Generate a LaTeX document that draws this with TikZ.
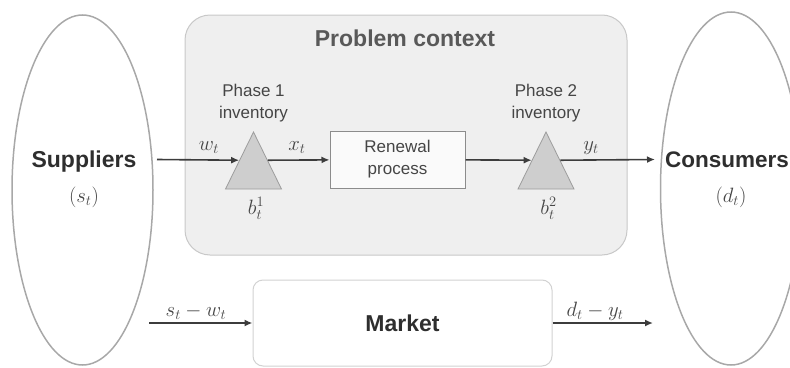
\documentclass[tikz,border=0pt]{standalone}
\usepackage{fontspec}
\setmainfont{Liberation Sans}
\usetikzlibrary{shapes.geometric,arrows.meta}

\definecolor{ovalline}{HTML}{A8A8A8}
\definecolor{ctxfill}{HTML}{EFEFEF}
\definecolor{ctxline}{HTML}{C8C8C8}
\definecolor{titletext}{HTML}{595959}
\definecolor{trifill}{HTML}{CECECE}
\definecolor{triline}{HTML}{9C9C9C}
\definecolor{boxline}{HTML}{8C8C8C}
\definecolor{mktline}{HTML}{D2D2D2}
\definecolor{flowline}{HTML}{3C3C3C}
\definecolor{darktext}{HTML}{2E2E2E}
\definecolor{midtext}{HTML}{454545}

\begin{document}
\begin{tikzpicture}[x=1pt,y=-1pt,
    every node/.style={inner sep=0pt},
    bigtext/.style={font=\fontsize{23}{27}\selectfont\bfseries, text=darktext},
    smalltext/.style={font=\fontsize{17}{22}\selectfont, text=midtext, align=center},
    mathlabel/.style={font=\fontsize{20}{24}\selectfont, text=midtext},
    oval/.style={ellipse, draw=ovalline, line width=1.5pt, minimum width=141pt},
    invtri/.style={isosceles triangle, shape border rotate=90, anchor=apex,
      isosceles triangle stretches, minimum width=56pt, minimum height=57pt,
      draw=triline, fill=trifill, line width=0.8pt},
    flow/.style={draw=flowline, line width=1.6pt, -{Latex[length=8pt,width=7pt]}}]
  \useasboundingbox (0,0) rectangle (790,367);

  % suppliers and consumers
  \node[oval, minimum height=350pt] (sup) at (82.5,190) {};
  \node[oval, minimum height=353pt] (con) at (731,188.5) {};
  \node[bigtext, anchor=base] (suptext) at (84,167) {Suppliers};
  \node[mathlabel, anchor=base] (stext) at (84,202) {$(s_t)$};
  \node[bigtext, font=\fontsize{22.5}{27}\selectfont\bfseries, anchor=base]
    (context) at (727,167) {Consumers};
  \node[mathlabel, anchor=base] (dtext) at (731,202) {$(d_t)$};

  % problem context
  \node[draw=ctxline, fill=ctxfill, line width=1pt, rounded corners=25pt,
    minimum width=442pt, minimum height=240pt] (ctx) at (406,135) {};
  \node[bigtext, text=titletext, anchor=base] (ctxtitle) at (405,46.5) {Problem context};
  \node[smalltext] (ph1) at (253.5,103) {Phase 1\\inventory};
  \node[smalltext] (ph2) at (546,103) {Phase 2\\inventory};
  \node[invtri] (tri1) at (253.5,131) {};
  \node[invtri] (tri2) at (546,131) {};
  \node[draw=boxline, fill=white!70!ctxfill, line width=1pt, smalltext,
    minimum width=135pt, minimum height=57pt] (renew) at (397.5,159.5) {Renewal\\process};
  \node[mathlabel, anchor=base] (b1) at (256,214) {$b_t^1$};
  \node[mathlabel, anchor=base] (b2) at (548.5,214) {$b_t^2$};

  % market
  \node[draw=mktline, fill=white, line width=1pt, rounded corners=10pt,
    minimum width=299pt, minimum height=86pt, bigtext] (market) at (402.5,323) {Market};

  % flows
  \coordinate (wstart) at (157,159.5);
  \coordinate (ystop) at (655,159.5);
  \coordinate (mstart) at (149,323);
  \coordinate (mstop) at (653,323);
  \begin{scope}[every node/.style={mathlabel, anchor=base}]
    \draw[flow] (wstart) -- (tri1.left side);
    \draw[flow] (tri1.right side) -- (renew);
    \draw[flow] (renew) -- (tri2.left side);
    \draw[flow] (tri2.right side) -- (ystop);
    \draw[flow] (mstart) -- (market);
    \draw[flow] (market) -- (mstop);
    \node (wt) at (209,150) {$w_t$};
    \node (xt) at (297,150) {$x_t$};
    \node (yt) at (591,150) {$y_t$};
    \node (swt) at (196,316) {$s_t - w_t$};
    \node (dyt) at (595,316) {$d_t - y_t$};
  \end{scope}
\end{tikzpicture}
\end{document}
